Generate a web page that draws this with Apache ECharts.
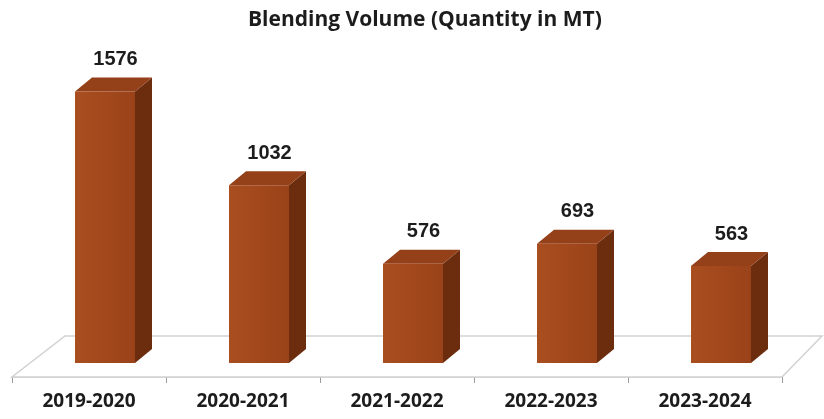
<!DOCTYPE html>
<html>
<head>
<meta charset="utf-8">
<script src="https://cdn.jsdelivr.net/npm/echarts@6/dist/echarts.min.js"></script>
<style>
  html, body { margin: 0; padding: 0; background: #ffffff; }
  #chart { width: 824px; height: 419px; }
</style>
</head>
<body>
<div id="chart"></div>
<script>
// Blending volume per financial year (MT)
const years = ['2019-2020', '2020-2021', '2021-2022', '2022-2023', '2023-2024'];
const volumes = [1576, 1032, 576, 693, 563];
const chartTitle = 'Blending Volume (Quantity in MT)';

// 3D box geometry (pixels)
const BAR_W = 60;      // front face width
const SHIFT_X = 16;    // bar sits into the floor, right of band centre
const SHIFT_Y = -14;   // and above the front edge
const DEPTH_X = 17;    // side / top depth
const DEPTH_Y = -14;
const FLOOR_L = 53, FLOOR_R = 40, FLOOR_Y = -41;

const COLORS = {
  front: '#a2481c',
  side: '#6b2d0e',
  top: '#94411a',
  floorFill: '#ffffff',
  floorEdge: '#d2d2d2'
};

function renderFloor(params, api) {
  const cs = params.coordSys;
  const yf = cs.y + cs.height;
  const xl = cs.x, xr = cs.x + cs.width;
  return {
    type: 'polygon',
    shape: { points: [[xl, yf], [xr, yf], [xr + FLOOR_R, yf + FLOOR_Y], [xl + FLOOR_L, yf + FLOOR_Y]] },
    style: { fill: COLORS.floorFill, stroke: COLORS.floorEdge, lineWidth: 1.5 },
    silent: true
  };
}

function renderBar(params, api) {
  const i = api.value(0), v = api.value(1);
  const base = api.coord([i, 0]);
  const top = api.coord([i, v]);
  const x0 = base[0] + SHIFT_X - BAR_W / 2;
  const x1 = x0 + BAR_W;
  const yb = base[1] + SHIFT_Y;
  const yt = top[1] + SHIFT_Y;
  return {
    type: 'group',
    children: [
      { type: 'polygon', shape: { points: [[x1, yb], [x1 + DEPTH_X, yb + DEPTH_Y], [x1 + DEPTH_X, yt + DEPTH_Y], [x1, yt]] },
        style: { fill: COLORS.side } },
      { type: 'polygon', shape: { points: [[x0, yt], [x1, yt], [x1 + DEPTH_X, yt + DEPTH_Y], [x0 + DEPTH_X, yt + DEPTH_Y]] },
        style: { fill: COLORS.top } },
      { type: 'rect', shape: { x: x0, y: yt, width: BAR_W, height: yb - yt },
        style: { fill: new echarts.graphic.LinearGradient(0, 0, 1, 0, [
          { offset: 0, color: '#a84e1f' }, { offset: 0.5, color: COLORS.front }, { offset: 1, color: '#9a4219' }]) } },
      { type: 'text', x: (x0 + x1 + DEPTH_X) / 2 + 2, y: yt + DEPTH_Y - 8,
        style: { text: String(v), align: 'center', verticalAlign: 'bottom',
          font: 'bold 20px "Liberation Sans", Arial, sans-serif', fill: '#1c1c1c' } }
    ]
  };
}

const chart = echarts.init(document.getElementById('chart'), null, { renderer: 'canvas' });
chart.setOption({
  animation: false,
  backgroundColor: '#ffffff',
  title: {
    text: chartTitle,
    left: 243,
    top: 5,
    textStyle: { fontFamily: '"Open Sans", sans-serif', fontWeight: 'bold', fontSize: 21, color: '#1c1c1c' }
  },
  grid: { left: 12, right: 42, top: 67, bottom: 42 },
  xAxis: {
    type: 'category',
    data: years,
    boundaryGap: true,
    axisLine: { lineStyle: { color: '#cfcfcf', width: 1.5 } },
    axisTick: { show: true, length: 6, lineStyle: { color: '#9a9a9a' } },
    axisLabel: { margin: 15, fontFamily: '"Open Sans", sans-serif', fontWeight: 'bold', fontSize: 19, color: '#1c1c1c' }
  },
  yAxis: {
    type: 'value',
    min: 0,
    max: 1800,
    show: false,
    splitLine: { show: false }
  },
  series: [
    { type: 'custom', renderItem: renderFloor, data: [0], z: 1, silent: true },
    { type: 'custom', renderItem: renderBar, data: volumes.map((v, i) => [i, v]), z: 3,
      encode: { x: 0, y: 1 } }
  ]
});
</script>
</body>
</html>
